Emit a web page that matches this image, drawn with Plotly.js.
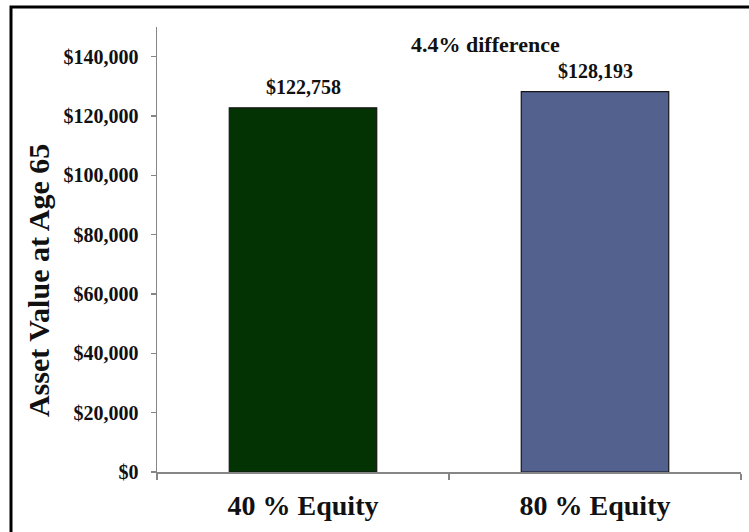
<!DOCTYPE html>
<html>
<head>
<meta charset="utf-8">
<script src="https://cdn.plot.ly/plotly-3.0.1.min.js"></script>
<style>html,body{margin:0;padding:0;background:#fff;}#chart{width:749px;height:532px;}</style>
</head>
<body>
<div id="chart"></div>
<script>
const categories = ["40 % Equity", "80 % Equity"];
const assetValues = [122758, 128193];
const barColors = ["#033303", "#53618F"];
const yTickVals = [0, 20000, 40000, 60000, 80000, 100000, 120000, 140000];
const yTickText = ["$0", "$20,000", "$40,000", "$60,000", "$80,000", "$100,000", "$120,000", "$140,000"];
const yTitle = "Asset Value at Age 65";

const fmt = v => "$" + v.toLocaleString("en-US");
const diffPct = ((assetValues[1] - assetValues[0]) / assetValues[0] * 100).toFixed(1);
const FONT = "Liberation Serif, Times New Roman, serif";

const trace = {
  type: "bar",
  x: categories,
  y: assetValues,
  width: 0.505,
  marker: { color: barColors, line: { color: "#151515", width: 1.2 } },
  hoverinfo: "none"
};

const valueAnnotations = categories.map((c, i) => ({
  x: c, y: assetValues[i], xref: "x", yref: "y",
  text: "<b>" + fmt(assetValues[i]) + "</b>",
  showarrow: false, yanchor: "bottom", yshift: 8,
  font: { family: FONT, size: 20, color: "#111" }
}));

const layout = {
  width: 749, height: 532,
  margin: { l: 157, r: 8, t: 27, b: 60 },
  paper_bgcolor: "#fff", plot_bgcolor: "#fff",
  showlegend: false,
  font: { family: FONT, color: "#111" },
  xaxis: {
    type: "category",
    showline: true, linecolor: "#868686", linewidth: 1.5,
    ticks: "outside", tickson: "boundaries", ticklen: 6, tickcolor: "#868686", tickwidth: 1.5,
    tickfont: { family: FONT, size: 28, color: "#111", weight: "bold" },
    ticklabelstandoff: 8,
    showgrid: false, zeroline: false, fixedrange: true
  },
  yaxis: {
    range: [0, 150000],
    tickvals: yTickVals, ticktext: yTickText,
    showline: true, linecolor: "#868686", linewidth: 1.5,
    ticks: "outside", ticklen: 5, tickcolor: "#868686", tickwidth: 1.5,
    tickfont: { family: FONT, size: 20, color: "#111", weight: "bold" },
    ticklabelstandoff: 8,
    showgrid: false, zeroline: false, fixedrange: true
  },
  annotations: valueAnnotations.concat([
    {
      xref: "paper", yref: "paper", x: 0.563, y: 0.96,
      text: "<b>" + diffPct + "% difference</b>", showarrow: false,
      xanchor: "center", yanchor: "middle",
      font: { family: FONT, size: 22, color: "#111" }
    },
    {
      xref: "paper", yref: "paper", x: -0.204, y: 0.431,
      text: "<b>" + yTitle + "</b>", showarrow: false, textangle: -90,
      xanchor: "center", yanchor: "middle",
      font: { family: FONT, size: 30, color: "#111" }
    }
  ]),
  shapes: [
    {
      type: "rect", xref: "paper", yref: "paper",
      x0: -0.25, x1: 1.2, y0: -0.3, y1: 1.045,
      line: { color: "#000", width: 3 }, fillcolor: "rgba(0,0,0,0)", layer: "below"
    }
  ]
};

Plotly.newPlot("chart", [trace], layout, { staticPlot: true, displayModeBar: false });
</script>
</body>
</html>
